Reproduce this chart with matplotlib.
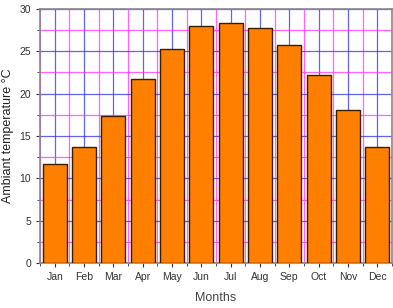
import matplotlib.pyplot as plt
from matplotlib.ticker import MultipleLocator
import numpy as np

plt.rcParams['font.family'] = ['Liberation Sans', 'DejaVu Sans']

months = ['Jan', 'Feb', 'Mar', 'Apr', 'May', 'Jun',
          'Jul', 'Aug', 'Sep', 'Oct', 'Nov', 'Dec']
temps = [11.7, 13.7, 17.4, 21.7, 25.3, 28.0, 28.3, 27.8, 25.8, 22.2, 18.1, 13.7]

fig = plt.figure(figsize=(3.93, 3.08), dpi=100)
ax = fig.add_axes([0.102, 0.146, 0.895, 0.825])

x = np.arange(len(months))
ax.bar(x, temps, width=0.82, color='#FF8000', edgecolor='#3a1e00',
       linewidth=1.0, zorder=3)

ax.set_xlim(-0.5, 11.5)
ax.set_ylim(0, 30)
ax.set_xticks(x)
ax.set_xticklabels(months)
ax.xaxis.set_minor_locator(MultipleLocator(1, offset=0.5))
ax.yaxis.set_major_locator(MultipleLocator(5))
ax.yaxis.set_minor_locator(MultipleLocator(2.5))

ax.grid(which='major', color='#3030e0', linewidth=0.9, alpha=0.75, zorder=1)
ax.grid(which='minor', color='#ff30ff', linewidth=0.9, alpha=0.75, zorder=1)
ax.set_axisbelow(True)

ax.tick_params(which='both', direction='out', labelsize=7.5, colors='#333333')
ax.tick_params(which='major', length=3)
ax.tick_params(which='minor', length=2)
for s in ax.spines.values():
    s.set_color('#888888')
    s.set_linewidth(1.2)

ax.set_xlabel('Months', fontsize=9, color='#444444', labelpad=7)
ax.set_ylabel('Ambiant temperature °C', fontsize=9, color='#222222', labelpad=4)

fig.savefig('out.png', dpi=100)
